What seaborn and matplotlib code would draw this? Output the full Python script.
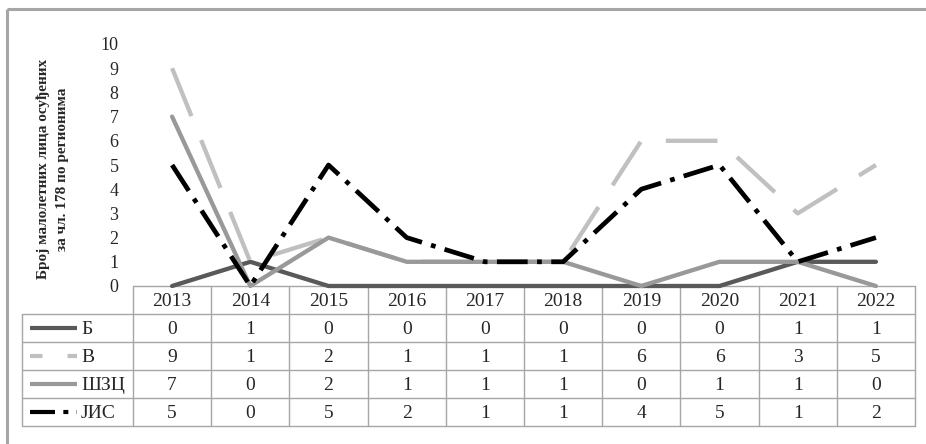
import pandas as pd
import matplotlib.pyplot as plt
import seaborn as sns

# Data
years = [2013, 2014, 2015, 2016, 2017, 2018, 2019, 2020, 2021, 2022]
regions = ["Б", "В", "ШЗЦ", "ЈИС"]
b_vals = [0, 1, 0, 0, 0, 0, 0, 0, 1, 1]
v_vals = [9, 1, 2, 1, 1, 1, 6, 6, 3, 5]
szc_vals = [7, 0, 2, 1, 1, 1, 0, 1, 1, 0]
jis_vals = [5, 0, 5, 2, 1, 1, 4, 5, 1, 2]
y_label = "Број малолетних лица осуђених\nза чл. 178 по регионима"

colors = {"Б": "#595959", "В": "#c0c0c0", "ШЗЦ": "#999999", "ЈИС": "#000000"}
dashes = {"Б": "", "В": (12, 6), "ШЗЦ": "", "ЈИС": (6.5, 2, 1, 2)}

df = pd.DataFrame({
    "year": years * 4,
    "value": b_vals + v_vals + szc_vals + jis_vals,
    "region": sum([[r] * len(years) for r in regions], []),
})
df["pos"] = df["year"] - years[0]

sns.set_theme(style="white")
plt.rcParams["font.family"] = ["Liberation Serif", "DejaVu Serif"]

W, H = 926, 444
fig = plt.figure(figsize=(W / 100, H / 100), dpi=100)

# full-figure axes in pixel coordinates for frame and table
bg = fig.add_axes([0, 0, 1, 1])
bg.set_xlim(0, W)
bg.set_ylim(H, 0)
bg.axis("off")

frame_c = "#a6a6a6"
bg.plot([7, W], [9, 9], color=frame_c, lw=2.2, solid_capstyle="butt")
bg.plot([7, 7], [9, H], color=frame_c, lw=2.2, solid_capstyle="butt")

# chart axes
ax = fig.add_axes([133 / W, 1 - 286 / H, (915 - 133) / W, (286 - 44) / H])
ax.patch.set_alpha(0)
sns.lineplot(data=df, x="pos", y="value", hue="region", style="region",
             hue_order=regions, style_order=regions, palette=colors,
             dashes=dashes, linewidth=3.1, legend=False, ax=ax)
for ln in ax.get_lines():
    ln.set_clip_on(False)
    ln.set_dash_capstyle("butt")
ax.get_lines()[-1].set_linewidth(3.4)

ax.set_xlim(-0.5, len(years) - 0.5)
ax.set_ylim(0, 10)
ax.set_yticks(range(11))
ax.set_xticks([])
ax.tick_params(axis="y", length=0, pad=10.5, labelsize=13)
ax.set_xlabel("")
ax.set_ylabel("")
for s in ax.spines.values():
    s.set_visible(False)
fig.text(53 / W, 1 - 169 / H, y_label, rotation=90, ha="center", va="center",
         fontsize=11, fontweight="bold", linespacing=1.55)

# data table
grid_c = "#a6a6a6"
col_edges = [133 + i * 78.2 for i in range(len(years) + 1)]
row_edges = [286, 314, 342, 370, 398, 426]
left = 22
bg.plot([col_edges[0], col_edges[-1]], [row_edges[0]] * 2, color=grid_c, lw=1)
for yv in row_edges[1:]:
    bg.plot([left, col_edges[-1]], [yv, yv], color=grid_c, lw=1)
for xv in col_edges:
    bg.plot([xv, xv], [row_edges[0], row_edges[-1]], color=grid_c, lw=1)
bg.plot([left, left], [row_edges[1], row_edges[-1]], color=grid_c, lw=1)

for i, yr in enumerate(years):
    cx = (col_edges[i] + col_edges[i + 1]) / 2
    bg.text(cx, (row_edges[0] + row_edges[1]) / 2 + 1, str(yr), ha="center",
            va="center", fontsize=14)

series = [b_vals, v_vals, szc_vals, jis_vals]
sample_dashes = {"Б": None, "В": (0, (3, 6)), "ШЗЦ": None, "ЈИС": (0, (6, 2, 1.2, 2, 1.2, 2))}
for r, (name, vals) in enumerate(zip(regions, series)):
    cy = (row_edges[r + 1] + row_edges[r + 2]) / 2
    ls = sample_dashes[name] if sample_dashes[name] else "-"
    bg.plot([30, 77], [cy, cy], color=colors[name], lw=3, linestyle=ls,
            dash_capstyle="butt", solid_capstyle="butt")
    bg.text(81, cy + 1, name, ha="left", va="center", fontsize=14)
    for i, v in enumerate(vals):
        cx = (col_edges[i] + col_edges[i + 1]) / 2
        bg.text(cx, cy + 1, str(v), ha="center", va="center", fontsize=14)

fig.savefig("out.png", dpi=100)
